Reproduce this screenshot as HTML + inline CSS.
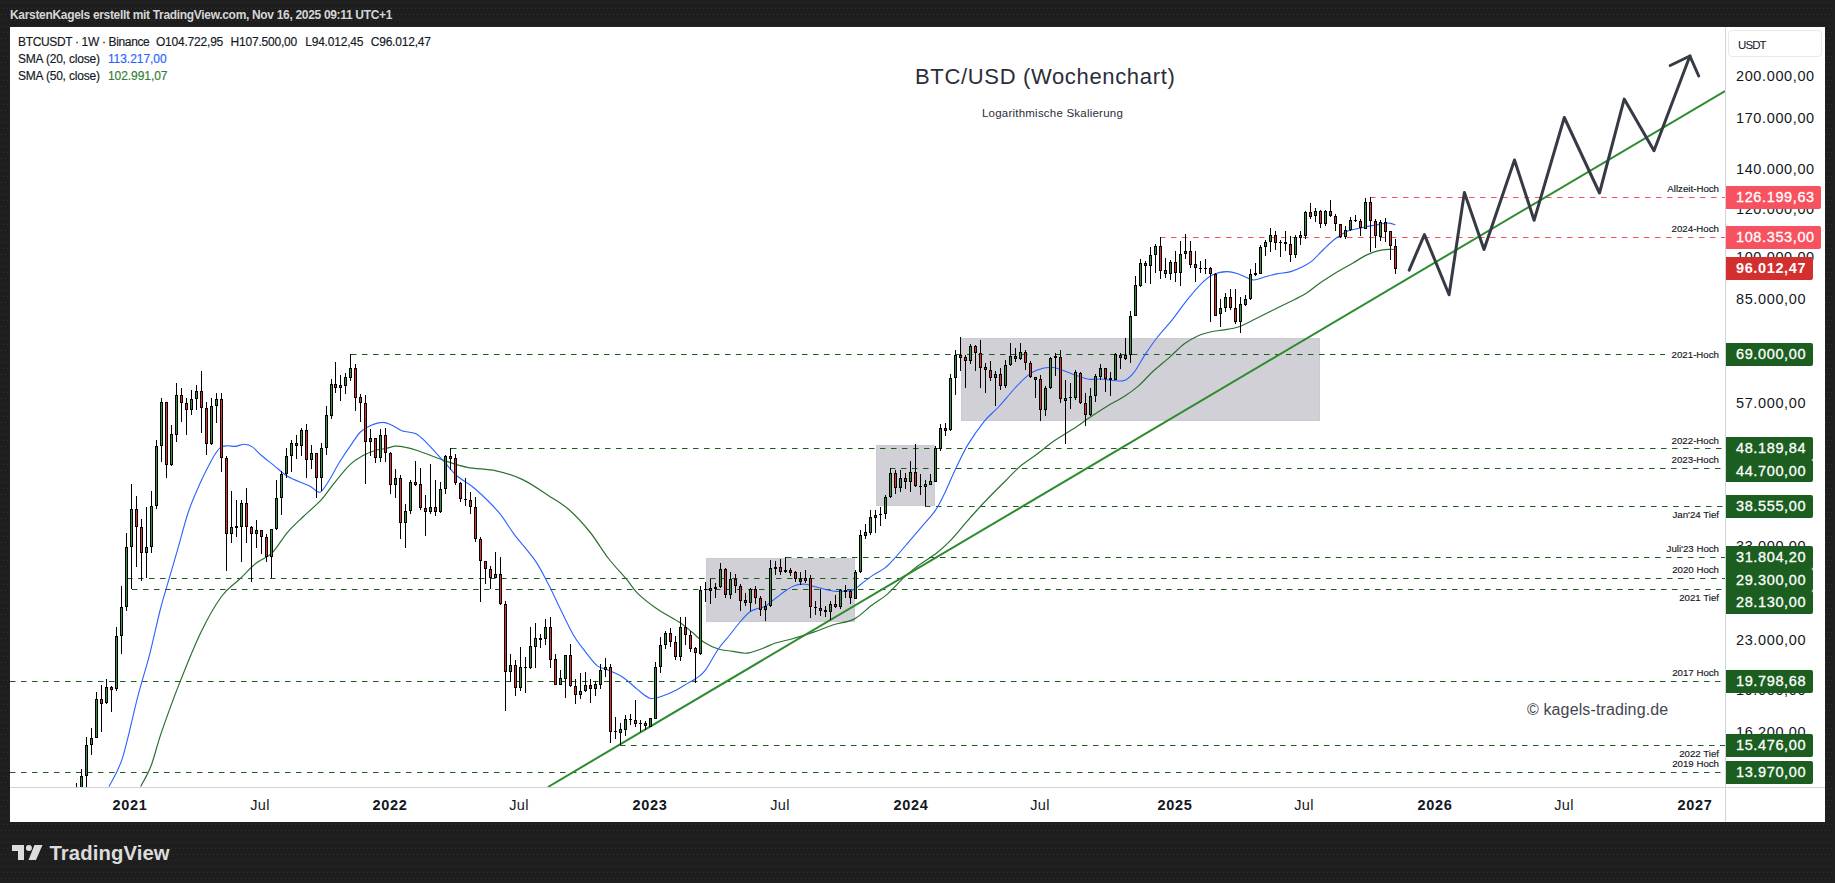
<!DOCTYPE html>
<html><head><meta charset="utf-8"><title>BTC/USD</title>
<style>
html,body{margin:0;padding:0;}
body{width:1835px;height:883px;overflow:hidden;background:#1e1e1e;font-family:"Liberation Sans", sans-serif;position:relative;
}
.abs{position:absolute;white-space:nowrap;}
#hdr{left:10px;top:8px;font-size:12px;line-height:14px;color:#d6d6d6;font-weight:bold;letter-spacing:-0.32px;}
#chart{left:10px;top:27px;width:1815px;height:795px;background:#fff;overflow:hidden;}
#vax{left:1725px;top:27px;width:1px;height:795px;background:#d1d4dc;}
#hax{left:10px;top:787px;width:1815px;height:1px;background:#d1d4dc;}
.pl{left:1736px;font-size:14.5px;line-height:16px;color:#131722;letter-spacing:0.62px;}
.tag{left:1726px;height:22.5px;line-height:22.5px;font-size:14.5px;color:#fff;letter-spacing:0.62px;border-radius:0 2px 2px 0;padding-left:10px;box-sizing:border-box;-webkit-text-stroke:0.3px #fff;}
.tl{font-size:14.5px;line-height:16px;color:#131722;top:797px;transform:translateX(-50%);letter-spacing:0.4px;}
.tl.b{font-weight:bold;letter-spacing:0.7px;}
.ann{-webkit-text-stroke:0.15px #131722;font-size:9.7px;line-height:11px;color:#131722;text-align:right;right:116px;}
.lg{-webkit-text-stroke:0.15px #131722;left:18px;font-size:12px;line-height:14px;color:#131722;letter-spacing:-0.2px;}
</style></head><body>
<svg class="abs" style="left:0;top:0" width="1835" height="883"><defs><pattern id="dots" width="4" height="12" patternUnits="userSpaceOnUse"><rect x="1" y="2" width="1" height="1" fill="#303030"/><rect x="3" y="8" width="1" height="1" fill="#303030"/></pattern></defs><rect width="1835" height="883" fill="url(#dots)"/></svg>
<div class="abs" id="hdr">KarstenKagels erstellt mit TradingView.com, Nov 16, 2025 09:11 UTC+1</div>
<div class="abs" id="chart"></div>
<svg class="abs" style="left:0;top:0" width="1835" height="883" viewBox="0 0 1835 883">
<defs><clipPath id="cp"><rect x="10" y="27" width="1715" height="760"/></clipPath></defs>
<g clip-path="url(#cp)" shape-rendering="auto">
<rect x="706.5" y="558.5" width="148" height="63" fill="#d1d0d6" stroke="#cbcad1" stroke-width="1"/>
<rect x="876.5" y="445.5" width="58" height="60" fill="#d1d0d6" stroke="#cbcad1" stroke-width="1"/>
<rect x="961.5" y="338.5" width="358" height="82" fill="#d1d0d6" stroke="#cbcad1" stroke-width="1"/>
<line x1="1370" y1="197.5" x2="1725" y2="197.5" stroke="#f7525f" stroke-width="1" stroke-dasharray="5.5 5.5"/>
<line x1="1160" y1="237.5" x2="1725" y2="237.5" stroke="#f7525f" stroke-width="1" stroke-dasharray="5.5 5.5"/>
<line x1="351" y1="354.5" x2="1665" y2="354.5" stroke="#1b5e20" stroke-width="1.1" stroke-dasharray="5.5 5.5"/>
<line x1="451" y1="448.5" x2="1725" y2="448.5" stroke="#1b5e20" stroke-width="1.1" stroke-dasharray="5.5 5.5"/>
<line x1="890" y1="468.5" x2="1725" y2="468.5" stroke="#1b5e20" stroke-width="1.1" stroke-dasharray="5.5 5.5"/>
<line x1="925" y1="506.5" x2="1725" y2="506.5" stroke="#1b5e20" stroke-width="1.1" stroke-dasharray="5.5 5.5"/>
<line x1="786" y1="557.5" x2="1725" y2="557.5" stroke="#1b5e20" stroke-width="1.1" stroke-dasharray="5.5 5.5"/>
<line x1="127" y1="578.5" x2="1725" y2="578.5" stroke="#1b5e20" stroke-width="1.1" stroke-dasharray="5.5 5.5"/>
<line x1="132" y1="589.5" x2="1725" y2="589.5" stroke="#1b5e20" stroke-width="1.1" stroke-dasharray="5.5 5.5"/>
<line x1="10" y1="681.5" x2="1725" y2="681.5" stroke="#1b5e20" stroke-width="1.1" stroke-dasharray="5.5 5.5"/>
<line x1="620" y1="745.5" x2="1725" y2="745.5" stroke="#1b5e20" stroke-width="1.1" stroke-dasharray="5.5 5.5"/>
<line x1="10" y1="772.5" x2="1725" y2="772.5" stroke="#1b5e20" stroke-width="1.1" stroke-dasharray="5.5 5.5"/>
<path d="M140.7,786.6C142.4,783.1 147.6,774.8 151.1,765.7C154.6,756.6 156.8,745.8 161.6,731.9C166.4,718.0 173.3,698.9 179.8,682.4C186.3,665.9 193.7,647.2 200.6,632.9C207.5,618.6 215.0,605.4 221.5,596.5C228.0,587.6 233.7,584.9 239.5,579.3C245.3,573.7 250.9,567.4 256.3,563.0C261.7,558.6 266.7,558.2 271.9,553.1C277.1,548.0 282.3,538.4 287.5,532.3C292.7,526.2 297.5,522.1 303.1,516.7C308.8,511.3 316.2,505.4 321.4,499.7C326.6,494.0 329.6,488.6 334.4,482.8C339.2,477.0 345.2,469.2 350.0,464.6C354.8,460.1 358.7,457.9 363.0,455.5C367.3,453.1 372.1,451.5 376.0,450.3C379.9,449.1 383.2,449.1 386.5,448.4C389.8,447.7 392.6,446.4 395.6,446.2C398.6,446.0 401.0,446.4 404.7,447.2C408.4,447.9 411.4,448.5 418.0,450.7C424.6,452.9 435.9,457.6 444.1,460.4C452.4,463.2 458.8,465.7 467.5,467.4C476.2,469.1 487.1,468.8 496.2,470.8C505.3,472.8 513.5,475.3 522.2,479.4C530.9,483.5 540.5,490.4 548.3,495.5C556.1,500.6 562.2,503.7 569.1,509.8C576.0,515.9 583.4,524.0 589.9,532.0C596.4,540.0 602.0,550.1 608.1,558.0C614.2,565.9 621.6,573.4 626.5,579.2C631.4,585.1 632.4,588.2 637.4,593.1C642.4,598.0 649.4,603.5 656.5,608.5C663.6,613.5 674.3,618.8 680.2,622.8C686.1,626.8 688.1,629.0 692.1,632.3C696.1,635.5 699.6,639.5 704.0,642.3C708.4,645.1 713.5,647.5 718.3,649.0C723.1,650.5 727.9,650.6 732.6,651.3C737.4,652.0 742.0,653.6 746.8,653.2C751.5,652.8 756.3,650.7 761.1,649.0C765.9,647.3 770.6,644.6 775.4,643.0C780.2,641.4 783.4,641.3 789.8,639.5C796.2,637.7 806.6,634.5 813.7,632.1C820.9,629.7 826.0,627.2 832.7,625.0C839.4,622.8 847.8,622.3 854.1,619.1C860.4,615.9 865.2,610.2 870.7,606.0C876.2,601.8 881.9,598.9 887.4,594.1C892.9,589.3 898.9,582.1 904.0,577.4C909.1,572.6 912.8,569.8 918.3,565.6C923.8,561.5 931.8,556.9 937.3,552.5C942.8,548.1 946.8,544.4 951.6,539.4C956.4,534.4 961.6,527.6 965.9,522.7C970.1,517.8 972.9,514.6 977.1,510.0C981.3,505.4 986.5,499.9 991.3,495.0C996.0,490.1 1000.8,485.4 1005.6,480.7C1010.4,475.9 1014.8,470.9 1019.9,466.5C1025.0,462.1 1031.0,458.8 1036.5,454.6C1042.0,450.4 1047.2,445.7 1053.2,441.5C1059.2,437.3 1065.9,433.8 1072.2,429.6C1078.5,425.4 1085.2,420.5 1091.2,416.5C1097.2,412.5 1102.4,409.2 1107.9,405.8C1113.5,402.4 1119.3,399.7 1124.5,396.3C1129.7,392.9 1134.0,389.8 1138.8,385.6C1143.6,381.4 1147.9,376.1 1153.1,371.3C1158.2,366.6 1164.5,361.7 1169.7,357.1C1174.9,352.6 1179.2,347.6 1184.0,344.0C1188.8,340.4 1193.5,337.8 1198.2,335.7C1203.0,333.6 1208.2,332.5 1212.5,331.5C1216.8,330.5 1219.9,330.6 1224.2,329.8C1228.5,329.1 1233.7,328.6 1238.4,327.0C1243.2,325.4 1247.2,323.0 1252.7,320.3C1258.2,317.6 1265.8,313.8 1271.7,310.8C1277.7,307.8 1282.9,305.3 1288.4,302.5C1294.0,299.7 1299.8,297.3 1305.0,294.1C1310.2,290.9 1314.1,287.0 1319.3,283.4C1324.5,279.8 1330.4,276.1 1335.9,272.7C1341.5,269.3 1347.4,266.2 1352.6,263.2C1357.8,260.2 1362.4,257.0 1366.8,254.9C1371.2,252.8 1374.9,251.5 1378.7,250.6C1382.5,249.7 1386.8,249.5 1389.5,249.3C1392.2,249.1 1394.1,249.6 1395.0,249.6" fill="none" stroke="#2c7031" stroke-width="1.2"/>
<path d="M109.0,786.6C111.2,781.8 117.7,773.1 122.5,757.9C127.3,742.7 133.5,712.8 138.1,695.4C142.7,678.0 146.1,668.1 149.8,653.8C153.5,639.5 157.1,621.9 160.3,609.5C163.5,597.1 166.0,589.5 169.0,579.2C172.0,568.9 174.8,559.2 178.1,547.9C181.3,536.6 184.8,522.4 188.5,511.5C192.2,500.6 196.4,491.5 200.3,482.8C204.2,474.1 208.7,465.2 212.0,459.4C215.3,453.5 217.7,450.0 220.3,447.7C222.9,445.4 225.1,446.0 227.6,445.8C230.1,445.6 232.6,446.6 235.4,446.4C238.2,446.1 241.7,444.2 244.5,444.3C247.3,444.4 249.5,445.0 252.3,446.9C255.1,448.8 257.8,452.3 261.5,455.5C265.2,458.7 270.2,462.4 274.5,465.9C278.8,469.4 282.7,473.4 287.5,476.3C292.3,479.2 299.2,481.6 303.1,483.3C307.0,485.0 308.6,485.4 310.9,486.7C313.2,488.0 314.9,490.6 316.7,491.4C318.4,492.2 319.3,493.3 321.4,491.4C323.5,489.5 326.2,485.1 329.2,480.2C332.2,475.3 336.1,467.6 339.6,462.0C343.1,456.4 346.5,451.4 350.0,446.4C353.5,441.4 356.9,435.5 360.4,432.0C363.9,428.5 367.1,427.1 370.8,425.5C374.5,423.9 379.1,422.4 382.6,422.4C386.1,422.3 388.7,423.8 392.0,425.2C395.3,426.6 398.5,429.5 402.4,430.9C406.3,432.3 411.5,431.6 415.4,433.5C419.3,435.4 421.1,437.4 425.9,442.1C430.7,446.8 438.9,456.1 444.1,461.7C449.3,467.3 451.9,471.4 457.1,476.0C462.3,480.6 468.4,482.9 475.3,489.0C482.2,495.1 492.3,504.8 498.8,512.4C505.3,520.0 508.3,526.6 514.4,534.6C520.5,542.6 529.6,552.4 535.2,560.6C540.9,568.9 544.3,576.5 548.3,584.1C552.3,591.7 554.9,597.8 559.0,606.2C563.1,614.6 568.9,627.2 573.2,634.7C577.6,642.2 581.1,646.1 585.1,651.3C589.1,656.4 593.0,662.4 597.0,665.6C601.0,668.8 604.5,668.4 608.9,670.4C613.3,672.4 618.5,674.3 623.2,677.5C628.0,680.7 633.0,685.9 637.4,689.4C641.8,692.9 645.8,697.0 649.8,698.2C653.8,699.4 656.9,697.8 661.2,696.5C665.5,695.2 671.1,692.8 675.5,690.6C679.9,688.4 684.0,685.4 687.4,683.4C690.8,681.4 692.7,680.9 695.7,678.7C698.7,676.5 701.4,675.4 705.2,670.4C709.0,665.4 714.2,654.9 718.3,649.0C722.4,643.1 726.1,639.5 729.7,635.0C733.3,630.5 736.6,625.9 740.0,622.0C743.4,618.1 747.0,614.0 750.0,611.8C753.0,609.5 755.5,609.4 758.0,608.5C760.5,607.6 762.2,608.0 765.3,606.2C768.4,604.4 773.0,600.1 776.5,597.5C780.0,594.9 782.9,592.5 786.0,590.5C789.1,588.5 791.7,586.5 794.9,585.5C798.1,584.5 801.4,583.9 805.1,584.2C808.8,584.5 812.2,586.1 817.3,587.3C822.4,588.5 829.8,591.0 835.7,591.4C841.7,591.8 848.8,591.1 853.0,589.9C857.2,588.7 857.9,586.5 861.2,584.0C864.6,581.5 869.1,577.8 873.1,575.1C877.1,572.4 881.4,570.7 885.0,567.9C888.6,565.1 890.5,562.8 894.5,558.4C898.5,554.0 904.0,547.3 908.8,541.8C913.6,536.2 918.7,530.2 923.1,525.1C927.5,520.0 931.5,515.9 935.0,510.9C938.5,505.9 940.3,502.0 943.8,495.0C947.2,488.0 951.7,477.1 955.7,468.8C959.7,460.5 962.9,453.0 967.6,445.1C972.4,437.2 979.1,427.7 984.2,421.3C989.4,414.9 993.4,412.6 998.5,407.0C1003.6,401.4 1010.4,393.1 1015.1,388.0C1019.9,382.9 1023.4,379.1 1027.0,376.1C1030.6,373.1 1032.5,371.7 1036.5,370.2C1040.5,368.7 1046.4,367.3 1050.8,367.3C1055.2,367.3 1058.7,368.9 1062.7,370.2C1066.7,371.5 1070.2,373.4 1074.6,374.9C1078.9,376.4 1084.4,378.5 1088.8,379.2C1093.2,379.9 1096.7,378.8 1100.7,379.0C1104.7,379.2 1108.7,380.1 1112.6,380.4C1116.5,380.6 1120.8,381.8 1124.3,380.5C1127.8,379.2 1130.2,377.1 1133.8,372.6C1137.4,368.1 1141.7,359.5 1145.7,353.6C1149.7,347.7 1153.2,342.6 1157.6,337.0C1161.9,331.4 1167.0,326.2 1171.8,320.3C1176.5,314.4 1181.3,307.2 1186.1,301.3C1190.9,295.4 1196.0,289.0 1200.4,284.6C1204.8,280.2 1208.0,277.3 1212.3,275.1C1216.6,272.9 1222.2,271.8 1226.5,271.6C1230.8,271.4 1234.0,272.5 1238.4,273.9C1242.8,275.3 1248.3,279.4 1252.7,279.9C1257.1,280.4 1260.6,278.0 1264.6,277.0C1268.6,276.0 1272.2,274.8 1276.5,273.9C1280.8,273.0 1286.4,272.8 1290.7,271.6C1295.0,270.4 1299.0,268.6 1302.6,266.8C1306.2,265.0 1308.5,263.9 1312.1,260.9C1315.7,257.9 1320.0,252.8 1324.0,249.0C1328.0,245.2 1331.9,241.3 1335.9,238.3C1339.9,235.3 1343.8,232.8 1347.8,231.1C1351.8,229.4 1356.0,229.2 1359.7,228.3C1363.4,227.4 1366.8,226.6 1370.2,225.9C1373.7,225.2 1377.2,224.6 1380.4,224.1C1383.6,223.6 1387.0,222.9 1389.5,223.1C1392.0,223.2 1394.4,224.7 1395.4,225.0" fill="none" stroke="#2962ff" stroke-width="1.1"/>
<line x1="548" y1="787" x2="1725" y2="91" stroke="#2e8b2e" stroke-width="2"/>
<rect x="76" y="783" width="1" height="17" fill="#000"/>
<rect x="75" y="790" width="3" height="10" fill="#000"/>
<rect x="76" y="791" width="1" height="8" fill="#2f9237"/>
<rect x="81" y="769" width="1" height="26" fill="#000"/>
<rect x="80" y="776" width="3" height="19" fill="#000"/>
<rect x="81" y="777" width="1" height="17" fill="#2f9237"/>
<rect x="86" y="737" width="1" height="53" fill="#000"/>
<rect x="85" y="745" width="3" height="31" fill="#000"/>
<rect x="86" y="746" width="1" height="29" fill="#2f9237"/>
<rect x="91" y="728" width="1" height="27" fill="#000"/>
<rect x="90" y="738" width="3" height="7" fill="#000"/>
<rect x="91" y="739" width="1" height="5" fill="#2f9237"/>
<rect x="96" y="692" width="1" height="46" fill="#000"/>
<rect x="95" y="699" width="3" height="39" fill="#000"/>
<rect x="96" y="700" width="1" height="37" fill="#2f9237"/>
<rect x="101" y="685" width="1" height="47" fill="#000"/>
<rect x="100" y="699" width="3" height="5" fill="#000"/>
<rect x="101" y="700" width="1" height="3" fill="#e02d2d"/>
<rect x="106" y="679" width="1" height="25" fill="#000"/>
<rect x="105" y="687" width="3" height="16" fill="#000"/>
<rect x="106" y="688" width="1" height="14" fill="#2f9237"/>
<rect x="111" y="686" width="1" height="26" fill="#000"/>
<rect x="110" y="687" width="3" height="3" fill="#000"/>
<rect x="111" y="688" width="1" height="1" fill="#e02d2d"/>
<rect x="116" y="627" width="1" height="64" fill="#000"/>
<rect x="115" y="636" width="3" height="53" fill="#000"/>
<rect x="116" y="637" width="1" height="51" fill="#2f9237"/>
<rect x="121" y="586" width="1" height="68" fill="#000"/>
<rect x="120" y="607" width="3" height="29" fill="#000"/>
<rect x="121" y="608" width="1" height="27" fill="#2f9237"/>
<rect x="126" y="533" width="1" height="78" fill="#000"/>
<rect x="125" y="547" width="3" height="60" fill="#000"/>
<rect x="126" y="548" width="1" height="58" fill="#2f9237"/>
<rect x="131" y="484" width="1" height="105" fill="#000"/>
<rect x="130" y="509" width="3" height="38" fill="#000"/>
<rect x="131" y="510" width="1" height="36" fill="#2f9237"/>
<rect x="136" y="496" width="1" height="71" fill="#000"/>
<rect x="135" y="509" width="3" height="18" fill="#000"/>
<rect x="136" y="510" width="1" height="16" fill="#e02d2d"/>
<rect x="141" y="519" width="1" height="62" fill="#000"/>
<rect x="140" y="527" width="3" height="26" fill="#000"/>
<rect x="141" y="528" width="1" height="24" fill="#e02d2d"/>
<rect x="146" y="507" width="1" height="71" fill="#000"/>
<rect x="145" y="547" width="3" height="6" fill="#000"/>
<rect x="146" y="548" width="1" height="4" fill="#2f9237"/>
<rect x="151" y="491" width="1" height="62" fill="#000"/>
<rect x="150" y="506" width="3" height="41" fill="#000"/>
<rect x="151" y="507" width="1" height="39" fill="#2f9237"/>
<rect x="156" y="440" width="1" height="69" fill="#000"/>
<rect x="155" y="446" width="3" height="60" fill="#000"/>
<rect x="156" y="447" width="1" height="58" fill="#2f9237"/>
<rect x="161" y="398" width="1" height="64" fill="#000"/>
<rect x="160" y="402" width="3" height="44" fill="#000"/>
<rect x="161" y="403" width="1" height="42" fill="#2f9237"/>
<rect x="166" y="402" width="1" height="76" fill="#000"/>
<rect x="165" y="402" width="3" height="63" fill="#000"/>
<rect x="166" y="403" width="1" height="61" fill="#e02d2d"/>
<rect x="171" y="425" width="1" height="41" fill="#000"/>
<rect x="170" y="434" width="3" height="31" fill="#000"/>
<rect x="171" y="435" width="1" height="29" fill="#2f9237"/>
<rect x="176" y="383" width="1" height="59" fill="#000"/>
<rect x="175" y="395" width="3" height="40" fill="#000"/>
<rect x="176" y="396" width="1" height="38" fill="#2f9237"/>
<rect x="181" y="388" width="1" height="34" fill="#000"/>
<rect x="180" y="395" width="3" height="8" fill="#000"/>
<rect x="181" y="396" width="1" height="6" fill="#e02d2d"/>
<rect x="186" y="398" width="1" height="37" fill="#000"/>
<rect x="185" y="403" width="3" height="7" fill="#000"/>
<rect x="186" y="404" width="1" height="5" fill="#e02d2d"/>
<rect x="191" y="390" width="1" height="25" fill="#000"/>
<rect x="190" y="399" width="3" height="11" fill="#000"/>
<rect x="191" y="400" width="1" height="9" fill="#2f9237"/>
<rect x="196" y="385" width="1" height="25" fill="#000"/>
<rect x="195" y="391" width="3" height="8" fill="#000"/>
<rect x="196" y="392" width="1" height="6" fill="#2f9237"/>
<rect x="201" y="371" width="1" height="62" fill="#000"/>
<rect x="200" y="391" width="3" height="17" fill="#000"/>
<rect x="201" y="392" width="1" height="15" fill="#e02d2d"/>
<rect x="206" y="402" width="1" height="53" fill="#000"/>
<rect x="205" y="408" width="3" height="36" fill="#000"/>
<rect x="206" y="409" width="1" height="34" fill="#e02d2d"/>
<rect x="211" y="398" width="1" height="47" fill="#000"/>
<rect x="210" y="406" width="3" height="38" fill="#000"/>
<rect x="211" y="407" width="1" height="36" fill="#2f9237"/>
<rect x="216" y="393" width="1" height="30" fill="#000"/>
<rect x="215" y="399" width="3" height="7" fill="#000"/>
<rect x="216" y="400" width="1" height="5" fill="#2f9237"/>
<rect x="221" y="393" width="1" height="79" fill="#000"/>
<rect x="220" y="399" width="3" height="59" fill="#000"/>
<rect x="221" y="400" width="1" height="57" fill="#e02d2d"/>
<rect x="226" y="456" width="1" height="115" fill="#000"/>
<rect x="225" y="458" width="3" height="76" fill="#000"/>
<rect x="226" y="459" width="1" height="74" fill="#e02d2d"/>
<rect x="231" y="491" width="1" height="52" fill="#000"/>
<rect x="230" y="527" width="3" height="7" fill="#000"/>
<rect x="231" y="528" width="1" height="5" fill="#2f9237"/>
<rect x="236" y="500" width="1" height="37" fill="#000"/>
<rect x="235" y="526" width="3" height="2" fill="#000"/>
<rect x="241" y="500" width="1" height="62" fill="#000"/>
<rect x="240" y="503" width="3" height="24" fill="#000"/>
<rect x="241" y="504" width="1" height="22" fill="#2f9237"/>
<rect x="246" y="488" width="1" height="55" fill="#000"/>
<rect x="245" y="503" width="3" height="24" fill="#000"/>
<rect x="246" y="504" width="1" height="22" fill="#e02d2d"/>
<rect x="251" y="526" width="1" height="56" fill="#000"/>
<rect x="250" y="527" width="3" height="7" fill="#000"/>
<rect x="251" y="528" width="1" height="5" fill="#e02d2d"/>
<rect x="256" y="520" width="1" height="28" fill="#000"/>
<rect x="255" y="530" width="3" height="4" fill="#000"/>
<rect x="256" y="531" width="1" height="2" fill="#2f9237"/>
<rect x="261" y="530" width="1" height="24" fill="#000"/>
<rect x="260" y="530" width="3" height="7" fill="#000"/>
<rect x="261" y="531" width="1" height="5" fill="#e02d2d"/>
<rect x="266" y="534" width="1" height="28" fill="#000"/>
<rect x="265" y="537" width="3" height="20" fill="#000"/>
<rect x="266" y="538" width="1" height="18" fill="#e02d2d"/>
<rect x="271" y="529" width="1" height="49" fill="#000"/>
<rect x="270" y="529" width="3" height="28" fill="#000"/>
<rect x="271" y="530" width="1" height="26" fill="#2f9237"/>
<rect x="276" y="480" width="1" height="50" fill="#000"/>
<rect x="275" y="498" width="3" height="31" fill="#000"/>
<rect x="276" y="499" width="1" height="29" fill="#2f9237"/>
<rect x="281" y="471" width="1" height="44" fill="#000"/>
<rect x="280" y="474" width="3" height="24" fill="#000"/>
<rect x="281" y="475" width="1" height="22" fill="#2f9237"/>
<rect x="286" y="448" width="1" height="30" fill="#000"/>
<rect x="285" y="456" width="3" height="18" fill="#000"/>
<rect x="286" y="457" width="1" height="16" fill="#2f9237"/>
<rect x="291" y="440" width="1" height="32" fill="#000"/>
<rect x="290" y="443" width="3" height="13" fill="#000"/>
<rect x="291" y="444" width="1" height="11" fill="#2f9237"/>
<rect x="296" y="435" width="1" height="24" fill="#000"/>
<rect x="295" y="443" width="3" height="3" fill="#000"/>
<rect x="296" y="444" width="1" height="1" fill="#e02d2d"/>
<rect x="301" y="428" width="1" height="28" fill="#000"/>
<rect x="300" y="430" width="3" height="16" fill="#000"/>
<rect x="301" y="431" width="1" height="14" fill="#2f9237"/>
<rect x="306" y="424" width="1" height="54" fill="#000"/>
<rect x="305" y="430" width="3" height="30" fill="#000"/>
<rect x="306" y="431" width="1" height="28" fill="#e02d2d"/>
<rect x="311" y="445" width="1" height="24" fill="#000"/>
<rect x="310" y="453" width="3" height="7" fill="#000"/>
<rect x="311" y="454" width="1" height="5" fill="#2f9237"/>
<rect x="316" y="453" width="1" height="45" fill="#000"/>
<rect x="315" y="453" width="3" height="25" fill="#000"/>
<rect x="316" y="454" width="1" height="23" fill="#e02d2d"/>
<rect x="321" y="443" width="1" height="48" fill="#000"/>
<rect x="320" y="448" width="3" height="30" fill="#000"/>
<rect x="321" y="449" width="1" height="28" fill="#2f9237"/>
<rect x="326" y="406" width="1" height="49" fill="#000"/>
<rect x="325" y="415" width="3" height="33" fill="#000"/>
<rect x="326" y="416" width="1" height="31" fill="#2f9237"/>
<rect x="331" y="379" width="1" height="40" fill="#000"/>
<rect x="330" y="384" width="3" height="32" fill="#000"/>
<rect x="331" y="385" width="1" height="30" fill="#2f9237"/>
<rect x="335" y="362" width="1" height="31" fill="#000"/>
<rect x="334" y="384" width="3" height="4" fill="#000"/>
<rect x="335" y="385" width="1" height="2" fill="#e02d2d"/>
<rect x="340" y="375" width="1" height="26" fill="#000"/>
<rect x="339" y="385" width="3" height="3" fill="#000"/>
<rect x="340" y="386" width="1" height="1" fill="#2f9237"/>
<rect x="345" y="373" width="1" height="21" fill="#000"/>
<rect x="344" y="377" width="3" height="9" fill="#000"/>
<rect x="345" y="378" width="1" height="7" fill="#2f9237"/>
<rect x="350" y="354" width="1" height="27" fill="#000"/>
<rect x="349" y="368" width="3" height="10" fill="#000"/>
<rect x="350" y="369" width="1" height="8" fill="#2f9237"/>
<rect x="355" y="364" width="1" height="47" fill="#000"/>
<rect x="354" y="368" width="3" height="30" fill="#000"/>
<rect x="355" y="369" width="1" height="28" fill="#e02d2d"/>
<rect x="360" y="394" width="1" height="28" fill="#000"/>
<rect x="359" y="397" width="3" height="6" fill="#000"/>
<rect x="360" y="398" width="1" height="4" fill="#e02d2d"/>
<rect x="365" y="395" width="1" height="89" fill="#000"/>
<rect x="364" y="403" width="3" height="39" fill="#000"/>
<rect x="365" y="404" width="1" height="37" fill="#e02d2d"/>
<rect x="370" y="429" width="1" height="27" fill="#000"/>
<rect x="369" y="438" width="3" height="4" fill="#000"/>
<rect x="370" y="439" width="1" height="2" fill="#2f9237"/>
<rect x="375" y="438" width="1" height="25" fill="#000"/>
<rect x="374" y="438" width="3" height="20" fill="#000"/>
<rect x="375" y="439" width="1" height="18" fill="#e02d2d"/>
<rect x="380" y="429" width="1" height="33" fill="#000"/>
<rect x="379" y="435" width="3" height="23" fill="#000"/>
<rect x="380" y="436" width="1" height="21" fill="#2f9237"/>
<rect x="385" y="428" width="1" height="34" fill="#000"/>
<rect x="384" y="435" width="3" height="18" fill="#000"/>
<rect x="385" y="436" width="1" height="16" fill="#e02d2d"/>
<rect x="390" y="452" width="1" height="42" fill="#000"/>
<rect x="389" y="453" width="3" height="32" fill="#000"/>
<rect x="390" y="454" width="1" height="30" fill="#e02d2d"/>
<rect x="395" y="469" width="1" height="29" fill="#000"/>
<rect x="394" y="478" width="3" height="7" fill="#000"/>
<rect x="395" y="479" width="1" height="5" fill="#2f9237"/>
<rect x="400" y="475" width="1" height="64" fill="#000"/>
<rect x="399" y="478" width="3" height="45" fill="#000"/>
<rect x="400" y="479" width="1" height="43" fill="#e02d2d"/>
<rect x="405" y="504" width="1" height="44" fill="#000"/>
<rect x="404" y="511" width="3" height="12" fill="#000"/>
<rect x="405" y="512" width="1" height="10" fill="#2f9237"/>
<rect x="410" y="480" width="1" height="34" fill="#000"/>
<rect x="409" y="482" width="3" height="29" fill="#000"/>
<rect x="410" y="483" width="1" height="27" fill="#2f9237"/>
<rect x="415" y="461" width="1" height="25" fill="#000"/>
<rect x="414" y="482" width="3" height="3" fill="#000"/>
<rect x="415" y="483" width="1" height="1" fill="#e02d2d"/>
<rect x="420" y="468" width="1" height="42" fill="#000"/>
<rect x="419" y="484" width="3" height="24" fill="#000"/>
<rect x="420" y="485" width="1" height="22" fill="#e02d2d"/>
<rect x="425" y="495" width="1" height="41" fill="#000"/>
<rect x="424" y="508" width="3" height="4" fill="#000"/>
<rect x="425" y="509" width="1" height="2" fill="#e02d2d"/>
<rect x="430" y="464" width="1" height="50" fill="#000"/>
<rect x="429" y="507" width="3" height="5" fill="#000"/>
<rect x="430" y="508" width="1" height="3" fill="#2f9237"/>
<rect x="435" y="480" width="1" height="36" fill="#000"/>
<rect x="434" y="507" width="3" height="5" fill="#000"/>
<rect x="435" y="508" width="1" height="3" fill="#e02d2d"/>
<rect x="440" y="482" width="1" height="31" fill="#000"/>
<rect x="439" y="489" width="3" height="23" fill="#000"/>
<rect x="440" y="490" width="1" height="21" fill="#2f9237"/>
<rect x="445" y="455" width="1" height="39" fill="#000"/>
<rect x="444" y="456" width="3" height="33" fill="#000"/>
<rect x="445" y="457" width="1" height="31" fill="#2f9237"/>
<rect x="450" y="448" width="1" height="22" fill="#000"/>
<rect x="449" y="456" width="3" height="3" fill="#000"/>
<rect x="450" y="457" width="1" height="1" fill="#e02d2d"/>
<rect x="455" y="454" width="1" height="31" fill="#000"/>
<rect x="454" y="458" width="3" height="25" fill="#000"/>
<rect x="455" y="459" width="1" height="23" fill="#e02d2d"/>
<rect x="460" y="482" width="1" height="20" fill="#000"/>
<rect x="459" y="483" width="3" height="16" fill="#000"/>
<rect x="460" y="484" width="1" height="14" fill="#e02d2d"/>
<rect x="465" y="478" width="1" height="28" fill="#000"/>
<rect x="464" y="499" width="3" height="1" fill="#000"/>
<rect x="470" y="492" width="1" height="22" fill="#000"/>
<rect x="469" y="500" width="3" height="7" fill="#000"/>
<rect x="470" y="501" width="1" height="5" fill="#e02d2d"/>
<rect x="475" y="497" width="1" height="45" fill="#000"/>
<rect x="474" y="507" width="3" height="32" fill="#000"/>
<rect x="475" y="508" width="1" height="30" fill="#e02d2d"/>
<rect x="480" y="537" width="1" height="65" fill="#000"/>
<rect x="479" y="539" width="3" height="22" fill="#000"/>
<rect x="480" y="540" width="1" height="20" fill="#e02d2d"/>
<rect x="485" y="561" width="1" height="23" fill="#000"/>
<rect x="484" y="561" width="3" height="8" fill="#000"/>
<rect x="485" y="562" width="1" height="6" fill="#e02d2d"/>
<rect x="490" y="566" width="1" height="23" fill="#000"/>
<rect x="489" y="569" width="3" height="9" fill="#000"/>
<rect x="490" y="570" width="1" height="7" fill="#e02d2d"/>
<rect x="495" y="552" width="1" height="26" fill="#000"/>
<rect x="494" y="574" width="3" height="4" fill="#000"/>
<rect x="495" y="575" width="1" height="2" fill="#2f9237"/>
<rect x="500" y="557" width="1" height="48" fill="#000"/>
<rect x="499" y="574" width="3" height="30" fill="#000"/>
<rect x="500" y="575" width="1" height="28" fill="#e02d2d"/>
<rect x="505" y="601" width="1" height="110" fill="#000"/>
<rect x="504" y="604" width="3" height="68" fill="#000"/>
<rect x="505" y="605" width="1" height="66" fill="#e02d2d"/>
<rect x="510" y="654" width="1" height="28" fill="#000"/>
<rect x="509" y="665" width="3" height="7" fill="#000"/>
<rect x="510" y="666" width="1" height="5" fill="#2f9237"/>
<rect x="515" y="660" width="1" height="36" fill="#000"/>
<rect x="514" y="665" width="3" height="23" fill="#000"/>
<rect x="515" y="666" width="1" height="21" fill="#e02d2d"/>
<rect x="520" y="647" width="1" height="44" fill="#000"/>
<rect x="519" y="667" width="3" height="21" fill="#000"/>
<rect x="520" y="668" width="1" height="19" fill="#2f9237"/>
<rect x="525" y="657" width="1" height="36" fill="#000"/>
<rect x="524" y="667" width="3" height="1" fill="#000"/>
<rect x="530" y="627" width="1" height="42" fill="#000"/>
<rect x="529" y="646" width="3" height="22" fill="#000"/>
<rect x="530" y="647" width="1" height="20" fill="#2f9237"/>
<rect x="535" y="623" width="1" height="45" fill="#000"/>
<rect x="534" y="638" width="3" height="9" fill="#000"/>
<rect x="535" y="639" width="1" height="7" fill="#2f9237"/>
<rect x="540" y="634" width="1" height="14" fill="#000"/>
<rect x="539" y="638" width="3" height="2" fill="#000"/>
<rect x="545" y="619" width="1" height="26" fill="#000"/>
<rect x="544" y="627" width="3" height="12" fill="#000"/>
<rect x="545" y="628" width="1" height="10" fill="#2f9237"/>
<rect x="550" y="617" width="1" height="51" fill="#000"/>
<rect x="549" y="627" width="3" height="33" fill="#000"/>
<rect x="550" y="628" width="1" height="31" fill="#e02d2d"/>
<rect x="555" y="654" width="1" height="31" fill="#000"/>
<rect x="554" y="659" width="3" height="26" fill="#000"/>
<rect x="555" y="660" width="1" height="24" fill="#e02d2d"/>
<rect x="560" y="670" width="1" height="15" fill="#000"/>
<rect x="559" y="678" width="3" height="7" fill="#000"/>
<rect x="560" y="679" width="1" height="5" fill="#2f9237"/>
<rect x="565" y="655" width="1" height="43" fill="#000"/>
<rect x="564" y="655" width="3" height="24" fill="#000"/>
<rect x="565" y="656" width="1" height="22" fill="#2f9237"/>
<rect x="570" y="644" width="1" height="43" fill="#000"/>
<rect x="569" y="655" width="3" height="31" fill="#000"/>
<rect x="570" y="656" width="1" height="29" fill="#e02d2d"/>
<rect x="575" y="679" width="1" height="25" fill="#000"/>
<rect x="574" y="686" width="3" height="9" fill="#000"/>
<rect x="575" y="687" width="1" height="7" fill="#e02d2d"/>
<rect x="580" y="673" width="1" height="26" fill="#000"/>
<rect x="579" y="691" width="3" height="4" fill="#000"/>
<rect x="580" y="692" width="1" height="2" fill="#2f9237"/>
<rect x="585" y="672" width="1" height="20" fill="#000"/>
<rect x="584" y="685" width="3" height="6" fill="#000"/>
<rect x="585" y="686" width="1" height="4" fill="#2f9237"/>
<rect x="590" y="679" width="1" height="24" fill="#000"/>
<rect x="589" y="685" width="3" height="4" fill="#000"/>
<rect x="590" y="686" width="1" height="2" fill="#e02d2d"/>
<rect x="595" y="681" width="1" height="15" fill="#000"/>
<rect x="594" y="684" width="3" height="5" fill="#000"/>
<rect x="595" y="685" width="1" height="3" fill="#2f9237"/>
<rect x="600" y="664" width="1" height="25" fill="#000"/>
<rect x="599" y="670" width="3" height="15" fill="#000"/>
<rect x="600" y="671" width="1" height="13" fill="#2f9237"/>
<rect x="605" y="658" width="1" height="19" fill="#000"/>
<rect x="604" y="667" width="3" height="3" fill="#000"/>
<rect x="605" y="668" width="1" height="1" fill="#2f9237"/>
<rect x="610" y="664" width="1" height="79" fill="#000"/>
<rect x="609" y="667" width="3" height="65" fill="#000"/>
<rect x="610" y="668" width="1" height="63" fill="#e02d2d"/>
<rect x="615" y="717" width="1" height="22" fill="#000"/>
<rect x="614" y="731" width="3" height="1" fill="#000"/>
<rect x="620" y="723" width="1" height="22" fill="#000"/>
<rect x="619" y="729" width="3" height="4" fill="#000"/>
<rect x="620" y="730" width="1" height="2" fill="#2f9237"/>
<rect x="625" y="715" width="1" height="21" fill="#000"/>
<rect x="624" y="719" width="3" height="11" fill="#000"/>
<rect x="625" y="720" width="1" height="9" fill="#2f9237"/>
<rect x="630" y="714" width="1" height="11" fill="#000"/>
<rect x="629" y="719" width="3" height="1" fill="#000"/>
<rect x="635" y="700" width="1" height="27" fill="#000"/>
<rect x="634" y="720" width="3" height="4" fill="#000"/>
<rect x="635" y="721" width="1" height="2" fill="#e02d2d"/>
<rect x="640" y="720" width="1" height="12" fill="#000"/>
<rect x="639" y="723" width="3" height="1" fill="#000"/>
<rect x="645" y="721" width="1" height="9" fill="#000"/>
<rect x="644" y="723" width="3" height="3" fill="#000"/>
<rect x="645" y="724" width="1" height="1" fill="#e02d2d"/>
<rect x="650" y="718" width="1" height="9" fill="#000"/>
<rect x="649" y="718" width="3" height="9" fill="#000"/>
<rect x="650" y="719" width="1" height="7" fill="#2f9237"/>
<rect x="655" y="662" width="1" height="57" fill="#000"/>
<rect x="654" y="667" width="3" height="52" fill="#000"/>
<rect x="655" y="668" width="1" height="50" fill="#2f9237"/>
<rect x="660" y="637" width="1" height="36" fill="#000"/>
<rect x="659" y="645" width="3" height="22" fill="#000"/>
<rect x="660" y="646" width="1" height="20" fill="#2f9237"/>
<rect x="665" y="631" width="1" height="18" fill="#000"/>
<rect x="664" y="633" width="3" height="12" fill="#000"/>
<rect x="665" y="634" width="1" height="10" fill="#2f9237"/>
<rect x="670" y="628" width="1" height="19" fill="#000"/>
<rect x="669" y="633" width="3" height="9" fill="#000"/>
<rect x="670" y="634" width="1" height="7" fill="#e02d2d"/>
<rect x="675" y="636" width="1" height="24" fill="#000"/>
<rect x="674" y="642" width="3" height="15" fill="#000"/>
<rect x="675" y="643" width="1" height="13" fill="#e02d2d"/>
<rect x="680" y="617" width="1" height="44" fill="#000"/>
<rect x="679" y="627" width="3" height="30" fill="#000"/>
<rect x="680" y="628" width="1" height="28" fill="#2f9237"/>
<rect x="685" y="617" width="1" height="28" fill="#000"/>
<rect x="684" y="627" width="3" height="8" fill="#000"/>
<rect x="685" y="628" width="1" height="6" fill="#e02d2d"/>
<rect x="690" y="631" width="1" height="21" fill="#000"/>
<rect x="689" y="635" width="3" height="14" fill="#000"/>
<rect x="690" y="636" width="1" height="12" fill="#e02d2d"/>
<rect x="695" y="647" width="1" height="36" fill="#000"/>
<rect x="694" y="648" width="3" height="5" fill="#000"/>
<rect x="695" y="649" width="1" height="3" fill="#e02d2d"/>
<rect x="700" y="586" width="1" height="69" fill="#000"/>
<rect x="699" y="590" width="3" height="64" fill="#000"/>
<rect x="700" y="591" width="1" height="62" fill="#2f9237"/>
<rect x="705" y="582" width="1" height="20" fill="#000"/>
<rect x="704" y="589" width="3" height="1" fill="#000"/>
<rect x="710" y="579" width="1" height="25" fill="#000"/>
<rect x="709" y="588" width="3" height="3" fill="#000"/>
<rect x="710" y="589" width="1" height="1" fill="#2f9237"/>
<rect x="715" y="583" width="1" height="15" fill="#000"/>
<rect x="714" y="587" width="3" height="2" fill="#000"/>
<rect x="720" y="563" width="1" height="25" fill="#000"/>
<rect x="719" y="569" width="3" height="18" fill="#000"/>
<rect x="720" y="570" width="1" height="16" fill="#2f9237"/>
<rect x="725" y="568" width="1" height="30" fill="#000"/>
<rect x="724" y="569" width="3" height="26" fill="#000"/>
<rect x="725" y="570" width="1" height="24" fill="#e02d2d"/>
<rect x="730" y="572" width="1" height="27" fill="#000"/>
<rect x="729" y="579" width="3" height="16" fill="#000"/>
<rect x="730" y="580" width="1" height="14" fill="#2f9237"/>
<rect x="735" y="574" width="1" height="19" fill="#000"/>
<rect x="734" y="579" width="3" height="7" fill="#000"/>
<rect x="735" y="580" width="1" height="5" fill="#e02d2d"/>
<rect x="740" y="584" width="1" height="27" fill="#000"/>
<rect x="739" y="586" width="3" height="15" fill="#000"/>
<rect x="740" y="587" width="1" height="13" fill="#e02d2d"/>
<rect x="745" y="593" width="1" height="13" fill="#000"/>
<rect x="744" y="600" width="3" height="3" fill="#000"/>
<rect x="745" y="601" width="1" height="1" fill="#e02d2d"/>
<rect x="750" y="588" width="1" height="23" fill="#000"/>
<rect x="749" y="589" width="3" height="14" fill="#000"/>
<rect x="750" y="590" width="1" height="12" fill="#2f9237"/>
<rect x="755" y="586" width="1" height="18" fill="#000"/>
<rect x="754" y="589" width="3" height="9" fill="#000"/>
<rect x="755" y="590" width="1" height="7" fill="#e02d2d"/>
<rect x="760" y="596" width="1" height="20" fill="#000"/>
<rect x="759" y="598" width="3" height="12" fill="#000"/>
<rect x="760" y="599" width="1" height="10" fill="#e02d2d"/>
<rect x="765" y="601" width="1" height="20" fill="#000"/>
<rect x="764" y="606" width="3" height="4" fill="#000"/>
<rect x="765" y="607" width="1" height="2" fill="#2f9237"/>
<rect x="770" y="560" width="1" height="47" fill="#000"/>
<rect x="769" y="568" width="3" height="38" fill="#000"/>
<rect x="770" y="569" width="1" height="36" fill="#2f9237"/>
<rect x="775" y="561" width="1" height="14" fill="#000"/>
<rect x="774" y="567" width="3" height="2" fill="#000"/>
<rect x="780" y="559" width="1" height="16" fill="#000"/>
<rect x="779" y="567" width="3" height="5" fill="#000"/>
<rect x="780" y="568" width="1" height="3" fill="#e02d2d"/>
<rect x="785" y="557" width="1" height="16" fill="#000"/>
<rect x="784" y="570" width="3" height="2" fill="#000"/>
<rect x="790" y="568" width="1" height="8" fill="#000"/>
<rect x="789" y="570" width="3" height="3" fill="#000"/>
<rect x="790" y="571" width="1" height="1" fill="#e02d2d"/>
<rect x="795" y="571" width="1" height="11" fill="#000"/>
<rect x="794" y="572" width="3" height="7" fill="#000"/>
<rect x="795" y="573" width="1" height="5" fill="#e02d2d"/>
<rect x="800" y="572" width="1" height="13" fill="#000"/>
<rect x="799" y="579" width="3" height="3" fill="#000"/>
<rect x="800" y="580" width="1" height="1" fill="#e02d2d"/>
<rect x="805" y="570" width="1" height="13" fill="#000"/>
<rect x="804" y="578" width="3" height="3" fill="#000"/>
<rect x="805" y="579" width="1" height="1" fill="#2f9237"/>
<rect x="810" y="575" width="1" height="43" fill="#000"/>
<rect x="809" y="578" width="3" height="29" fill="#000"/>
<rect x="810" y="579" width="1" height="27" fill="#e02d2d"/>
<rect x="815" y="601" width="1" height="14" fill="#000"/>
<rect x="814" y="607" width="3" height="1" fill="#000"/>
<rect x="820" y="589" width="1" height="27" fill="#000"/>
<rect x="819" y="608" width="3" height="3" fill="#000"/>
<rect x="820" y="609" width="1" height="1" fill="#e02d2d"/>
<rect x="825" y="606" width="1" height="11" fill="#000"/>
<rect x="824" y="610" width="3" height="2" fill="#000"/>
<rect x="830" y="601" width="1" height="19" fill="#000"/>
<rect x="829" y="604" width="3" height="8" fill="#000"/>
<rect x="830" y="605" width="1" height="6" fill="#2f9237"/>
<rect x="835" y="595" width="1" height="13" fill="#000"/>
<rect x="834" y="604" width="3" height="3" fill="#000"/>
<rect x="835" y="605" width="1" height="1" fill="#e02d2d"/>
<rect x="840" y="589" width="1" height="20" fill="#000"/>
<rect x="839" y="590" width="3" height="17" fill="#000"/>
<rect x="840" y="591" width="1" height="15" fill="#2f9237"/>
<rect x="845" y="585" width="1" height="13" fill="#000"/>
<rect x="844" y="590" width="3" height="2" fill="#000"/>
<rect x="850" y="590" width="1" height="14" fill="#000"/>
<rect x="849" y="591" width="3" height="7" fill="#000"/>
<rect x="850" y="592" width="1" height="5" fill="#e02d2d"/>
<rect x="855" y="570" width="1" height="29" fill="#000"/>
<rect x="854" y="572" width="3" height="27" fill="#000"/>
<rect x="855" y="573" width="1" height="25" fill="#2f9237"/>
<rect x="860" y="530" width="1" height="43" fill="#000"/>
<rect x="859" y="535" width="3" height="37" fill="#000"/>
<rect x="860" y="536" width="1" height="35" fill="#2f9237"/>
<rect x="865" y="524" width="1" height="15" fill="#000"/>
<rect x="864" y="532" width="3" height="4" fill="#000"/>
<rect x="865" y="533" width="1" height="2" fill="#2f9237"/>
<rect x="870" y="510" width="1" height="25" fill="#000"/>
<rect x="869" y="517" width="3" height="16" fill="#000"/>
<rect x="870" y="518" width="1" height="14" fill="#2f9237"/>
<rect x="875" y="510" width="1" height="23" fill="#000"/>
<rect x="874" y="515" width="3" height="3" fill="#000"/>
<rect x="875" y="516" width="1" height="1" fill="#2f9237"/>
<rect x="880" y="507" width="1" height="19" fill="#000"/>
<rect x="879" y="514" width="3" height="1" fill="#000"/>
<rect x="885" y="495" width="1" height="24" fill="#000"/>
<rect x="884" y="497" width="3" height="17" fill="#000"/>
<rect x="885" y="498" width="1" height="15" fill="#2f9237"/>
<rect x="890" y="468" width="1" height="30" fill="#000"/>
<rect x="889" y="473" width="3" height="24" fill="#000"/>
<rect x="890" y="474" width="1" height="22" fill="#2f9237"/>
<rect x="895" y="470" width="1" height="24" fill="#000"/>
<rect x="894" y="473" width="3" height="15" fill="#000"/>
<rect x="895" y="474" width="1" height="13" fill="#e02d2d"/>
<rect x="900" y="470" width="1" height="22" fill="#000"/>
<rect x="899" y="478" width="3" height="10" fill="#000"/>
<rect x="900" y="479" width="1" height="8" fill="#2f9237"/>
<rect x="905" y="473" width="1" height="16" fill="#000"/>
<rect x="904" y="478" width="3" height="4" fill="#000"/>
<rect x="905" y="479" width="1" height="2" fill="#e02d2d"/>
<rect x="910" y="461" width="1" height="31" fill="#000"/>
<rect x="909" y="472" width="3" height="10" fill="#000"/>
<rect x="910" y="473" width="1" height="8" fill="#2f9237"/>
<rect x="915" y="444" width="1" height="43" fill="#000"/>
<rect x="914" y="472" width="3" height="14" fill="#000"/>
<rect x="915" y="473" width="1" height="12" fill="#e02d2d"/>
<rect x="920" y="474" width="1" height="21" fill="#000"/>
<rect x="919" y="486" width="3" height="1" fill="#000"/>
<rect x="925" y="480" width="1" height="26" fill="#000"/>
<rect x="924" y="484" width="3" height="3" fill="#000"/>
<rect x="925" y="485" width="1" height="1" fill="#2f9237"/>
<rect x="930" y="474" width="1" height="11" fill="#000"/>
<rect x="929" y="481" width="3" height="4" fill="#000"/>
<rect x="930" y="482" width="1" height="2" fill="#2f9237"/>
<rect x="935" y="446" width="1" height="36" fill="#000"/>
<rect x="934" y="448" width="3" height="34" fill="#000"/>
<rect x="935" y="449" width="1" height="32" fill="#2f9237"/>
<rect x="940" y="424" width="1" height="27" fill="#000"/>
<rect x="939" y="428" width="3" height="21" fill="#000"/>
<rect x="940" y="429" width="1" height="19" fill="#2f9237"/>
<rect x="945" y="423" width="1" height="13" fill="#000"/>
<rect x="944" y="428" width="3" height="3" fill="#000"/>
<rect x="945" y="429" width="1" height="1" fill="#e02d2d"/>
<rect x="950" y="374" width="1" height="57" fill="#000"/>
<rect x="949" y="378" width="3" height="52" fill="#000"/>
<rect x="950" y="379" width="1" height="50" fill="#2f9237"/>
<rect x="955" y="350" width="1" height="45" fill="#000"/>
<rect x="954" y="355" width="3" height="23" fill="#000"/>
<rect x="955" y="356" width="1" height="21" fill="#2f9237"/>
<rect x="960" y="337" width="1" height="34" fill="#000"/>
<rect x="959" y="355" width="3" height="3" fill="#000"/>
<rect x="960" y="356" width="1" height="1" fill="#e02d2d"/>
<rect x="965" y="355" width="1" height="33" fill="#000"/>
<rect x="964" y="357" width="3" height="4" fill="#000"/>
<rect x="965" y="358" width="1" height="2" fill="#e02d2d"/>
<rect x="970" y="344" width="1" height="20" fill="#000"/>
<rect x="969" y="346" width="3" height="15" fill="#000"/>
<rect x="970" y="347" width="1" height="13" fill="#2f9237"/>
<rect x="975" y="345" width="1" height="26" fill="#000"/>
<rect x="974" y="346" width="3" height="7" fill="#000"/>
<rect x="975" y="347" width="1" height="5" fill="#e02d2d"/>
<rect x="980" y="340" width="1" height="48" fill="#000"/>
<rect x="979" y="353" width="3" height="15" fill="#000"/>
<rect x="980" y="354" width="1" height="13" fill="#e02d2d"/>
<rect x="985" y="363" width="1" height="30" fill="#000"/>
<rect x="984" y="367" width="3" height="3" fill="#000"/>
<rect x="985" y="368" width="1" height="1" fill="#e02d2d"/>
<rect x="990" y="361" width="1" height="20" fill="#000"/>
<rect x="989" y="370" width="3" height="8" fill="#000"/>
<rect x="990" y="371" width="1" height="6" fill="#e02d2d"/>
<rect x="995" y="371" width="1" height="35" fill="#000"/>
<rect x="994" y="374" width="3" height="4" fill="#000"/>
<rect x="995" y="375" width="1" height="2" fill="#2f9237"/>
<rect x="1000" y="368" width="1" height="22" fill="#000"/>
<rect x="999" y="374" width="3" height="12" fill="#000"/>
<rect x="1000" y="375" width="1" height="10" fill="#e02d2d"/>
<rect x="1005" y="360" width="1" height="28" fill="#000"/>
<rect x="1004" y="365" width="3" height="21" fill="#000"/>
<rect x="1005" y="366" width="1" height="19" fill="#2f9237"/>
<rect x="1010" y="343" width="1" height="23" fill="#000"/>
<rect x="1009" y="356" width="3" height="9" fill="#000"/>
<rect x="1010" y="357" width="1" height="7" fill="#2f9237"/>
<rect x="1015" y="348" width="1" height="14" fill="#000"/>
<rect x="1014" y="356" width="3" height="3" fill="#000"/>
<rect x="1015" y="357" width="1" height="1" fill="#e02d2d"/>
<rect x="1020" y="343" width="1" height="17" fill="#000"/>
<rect x="1019" y="352" width="3" height="7" fill="#000"/>
<rect x="1020" y="353" width="1" height="5" fill="#2f9237"/>
<rect x="1025" y="350" width="1" height="20" fill="#000"/>
<rect x="1024" y="352" width="3" height="11" fill="#000"/>
<rect x="1025" y="353" width="1" height="9" fill="#e02d2d"/>
<rect x="1030" y="361" width="1" height="17" fill="#000"/>
<rect x="1029" y="363" width="3" height="14" fill="#000"/>
<rect x="1030" y="364" width="1" height="12" fill="#e02d2d"/>
<rect x="1035" y="377" width="1" height="21" fill="#000"/>
<rect x="1034" y="377" width="3" height="3" fill="#000"/>
<rect x="1035" y="378" width="1" height="1" fill="#e02d2d"/>
<rect x="1040" y="375" width="1" height="46" fill="#000"/>
<rect x="1039" y="379" width="3" height="31" fill="#000"/>
<rect x="1040" y="380" width="1" height="29" fill="#e02d2d"/>
<rect x="1045" y="386" width="1" height="30" fill="#000"/>
<rect x="1044" y="388" width="3" height="22" fill="#000"/>
<rect x="1045" y="389" width="1" height="20" fill="#2f9237"/>
<rect x="1050" y="357" width="1" height="32" fill="#000"/>
<rect x="1049" y="358" width="3" height="30" fill="#000"/>
<rect x="1050" y="359" width="1" height="28" fill="#2f9237"/>
<rect x="1055" y="353" width="1" height="23" fill="#000"/>
<rect x="1054" y="356" width="3" height="2" fill="#000"/>
<rect x="1060" y="350" width="1" height="53" fill="#000"/>
<rect x="1059" y="357" width="3" height="42" fill="#000"/>
<rect x="1060" y="358" width="1" height="40" fill="#e02d2d"/>
<rect x="1065" y="380" width="1" height="64" fill="#000"/>
<rect x="1064" y="398" width="3" height="3" fill="#000"/>
<rect x="1065" y="399" width="1" height="1" fill="#2f9237"/>
<rect x="1070" y="383" width="1" height="26" fill="#000"/>
<rect x="1069" y="397" width="3" height="1" fill="#000"/>
<rect x="1075" y="370" width="1" height="30" fill="#000"/>
<rect x="1074" y="372" width="3" height="26" fill="#000"/>
<rect x="1075" y="373" width="1" height="24" fill="#2f9237"/>
<rect x="1080" y="372" width="1" height="32" fill="#000"/>
<rect x="1079" y="373" width="3" height="30" fill="#000"/>
<rect x="1080" y="374" width="1" height="28" fill="#e02d2d"/>
<rect x="1085" y="393" width="1" height="33" fill="#000"/>
<rect x="1084" y="403" width="3" height="12" fill="#000"/>
<rect x="1085" y="404" width="1" height="10" fill="#e02d2d"/>
<rect x="1090" y="388" width="1" height="28" fill="#000"/>
<rect x="1089" y="396" width="3" height="19" fill="#000"/>
<rect x="1090" y="397" width="1" height="17" fill="#2f9237"/>
<rect x="1095" y="374" width="1" height="28" fill="#000"/>
<rect x="1094" y="376" width="3" height="20" fill="#000"/>
<rect x="1095" y="377" width="1" height="18" fill="#2f9237"/>
<rect x="1100" y="364" width="1" height="16" fill="#000"/>
<rect x="1099" y="368" width="3" height="9" fill="#000"/>
<rect x="1100" y="369" width="1" height="7" fill="#2f9237"/>
<rect x="1105" y="368" width="1" height="24" fill="#000"/>
<rect x="1104" y="368" width="3" height="11" fill="#000"/>
<rect x="1105" y="369" width="1" height="9" fill="#e02d2d"/>
<rect x="1110" y="372" width="1" height="24" fill="#000"/>
<rect x="1109" y="378" width="3" height="2" fill="#000"/>
<rect x="1115" y="353" width="1" height="27" fill="#000"/>
<rect x="1114" y="354" width="3" height="26" fill="#000"/>
<rect x="1115" y="355" width="1" height="24" fill="#2f9237"/>
<rect x="1120" y="353" width="1" height="16" fill="#000"/>
<rect x="1119" y="355" width="3" height="3" fill="#000"/>
<rect x="1120" y="356" width="1" height="1" fill="#e02d2d"/>
<rect x="1125" y="338" width="1" height="22" fill="#000"/>
<rect x="1124" y="355" width="3" height="4" fill="#000"/>
<rect x="1125" y="356" width="1" height="2" fill="#2f9237"/>
<rect x="1130" y="311" width="1" height="52" fill="#000"/>
<rect x="1129" y="316" width="3" height="39" fill="#000"/>
<rect x="1130" y="317" width="1" height="37" fill="#2f9237"/>
<rect x="1135" y="276" width="1" height="40" fill="#000"/>
<rect x="1134" y="285" width="3" height="31" fill="#000"/>
<rect x="1135" y="286" width="1" height="29" fill="#2f9237"/>
<rect x="1140" y="259" width="1" height="28" fill="#000"/>
<rect x="1139" y="263" width="3" height="23" fill="#000"/>
<rect x="1140" y="264" width="1" height="21" fill="#2f9237"/>
<rect x="1145" y="261" width="1" height="22" fill="#000"/>
<rect x="1144" y="263" width="3" height="3" fill="#000"/>
<rect x="1145" y="264" width="1" height="1" fill="#e02d2d"/>
<rect x="1150" y="247" width="1" height="37" fill="#000"/>
<rect x="1149" y="255" width="3" height="11" fill="#000"/>
<rect x="1150" y="256" width="1" height="9" fill="#2f9237"/>
<rect x="1155" y="244" width="1" height="29" fill="#000"/>
<rect x="1154" y="246" width="3" height="9" fill="#000"/>
<rect x="1155" y="247" width="1" height="7" fill="#2f9237"/>
<rect x="1160" y="237" width="1" height="42" fill="#000"/>
<rect x="1159" y="246" width="3" height="25" fill="#000"/>
<rect x="1160" y="247" width="1" height="23" fill="#e02d2d"/>
<rect x="1165" y="258" width="1" height="20" fill="#000"/>
<rect x="1164" y="270" width="3" height="4" fill="#000"/>
<rect x="1165" y="271" width="1" height="2" fill="#e02d2d"/>
<rect x="1170" y="260" width="1" height="20" fill="#000"/>
<rect x="1169" y="262" width="3" height="12" fill="#000"/>
<rect x="1170" y="263" width="1" height="10" fill="#2f9237"/>
<rect x="1175" y="251" width="1" height="31" fill="#000"/>
<rect x="1174" y="262" width="3" height="11" fill="#000"/>
<rect x="1175" y="263" width="1" height="9" fill="#e02d2d"/>
<rect x="1180" y="241" width="1" height="45" fill="#000"/>
<rect x="1179" y="254" width="3" height="19" fill="#000"/>
<rect x="1180" y="255" width="1" height="17" fill="#2f9237"/>
<rect x="1185" y="234" width="1" height="25" fill="#000"/>
<rect x="1184" y="251" width="3" height="3" fill="#000"/>
<rect x="1185" y="252" width="1" height="1" fill="#2f9237"/>
<rect x="1190" y="241" width="1" height="27" fill="#000"/>
<rect x="1189" y="251" width="3" height="14" fill="#000"/>
<rect x="1190" y="252" width="1" height="12" fill="#e02d2d"/>
<rect x="1195" y="251" width="1" height="31" fill="#000"/>
<rect x="1194" y="264" width="3" height="4" fill="#000"/>
<rect x="1195" y="265" width="1" height="2" fill="#e02d2d"/>
<rect x="1200" y="261" width="1" height="12" fill="#000"/>
<rect x="1199" y="268" width="3" height="1" fill="#000"/>
<rect x="1205" y="259" width="1" height="15" fill="#000"/>
<rect x="1204" y="268" width="3" height="1" fill="#000"/>
<rect x="1210" y="267" width="1" height="55" fill="#000"/>
<rect x="1209" y="268" width="3" height="6" fill="#000"/>
<rect x="1210" y="269" width="1" height="4" fill="#e02d2d"/>
<rect x="1215" y="273" width="1" height="43" fill="#000"/>
<rect x="1214" y="274" width="3" height="42" fill="#000"/>
<rect x="1215" y="275" width="1" height="40" fill="#e02d2d"/>
<rect x="1220" y="299" width="1" height="28" fill="#000"/>
<rect x="1219" y="308" width="3" height="6" fill="#000"/>
<rect x="1220" y="309" width="1" height="4" fill="#2f9237"/>
<rect x="1225" y="293" width="1" height="19" fill="#000"/>
<rect x="1224" y="297" width="3" height="11" fill="#000"/>
<rect x="1225" y="298" width="1" height="9" fill="#2f9237"/>
<rect x="1230" y="289" width="1" height="21" fill="#000"/>
<rect x="1229" y="297" width="3" height="11" fill="#000"/>
<rect x="1230" y="298" width="1" height="9" fill="#e02d2d"/>
<rect x="1235" y="289" width="1" height="35" fill="#000"/>
<rect x="1234" y="308" width="3" height="14" fill="#000"/>
<rect x="1235" y="309" width="1" height="12" fill="#e02d2d"/>
<rect x="1240" y="297" width="1" height="36" fill="#000"/>
<rect x="1239" y="304" width="3" height="18" fill="#000"/>
<rect x="1240" y="305" width="1" height="16" fill="#2f9237"/>
<rect x="1245" y="295" width="1" height="11" fill="#000"/>
<rect x="1244" y="299" width="3" height="6" fill="#000"/>
<rect x="1245" y="300" width="1" height="4" fill="#2f9237"/>
<rect x="1250" y="269" width="1" height="31" fill="#000"/>
<rect x="1249" y="274" width="3" height="25" fill="#000"/>
<rect x="1250" y="275" width="1" height="23" fill="#2f9237"/>
<rect x="1255" y="263" width="1" height="13" fill="#000"/>
<rect x="1254" y="273" width="3" height="2" fill="#000"/>
<rect x="1260" y="245" width="1" height="29" fill="#000"/>
<rect x="1259" y="247" width="3" height="27" fill="#000"/>
<rect x="1260" y="248" width="1" height="25" fill="#2f9237"/>
<rect x="1265" y="240" width="1" height="16" fill="#000"/>
<rect x="1264" y="242" width="3" height="5" fill="#000"/>
<rect x="1265" y="243" width="1" height="3" fill="#2f9237"/>
<rect x="1270" y="228" width="1" height="24" fill="#000"/>
<rect x="1269" y="235" width="3" height="7" fill="#000"/>
<rect x="1270" y="236" width="1" height="5" fill="#2f9237"/>
<rect x="1275" y="231" width="1" height="19" fill="#000"/>
<rect x="1274" y="235" width="3" height="8" fill="#000"/>
<rect x="1275" y="236" width="1" height="6" fill="#e02d2d"/>
<rect x="1280" y="240" width="1" height="17" fill="#000"/>
<rect x="1279" y="242" width="3" height="1" fill="#000"/>
<rect x="1285" y="231" width="1" height="20" fill="#000"/>
<rect x="1284" y="242" width="3" height="2" fill="#000"/>
<rect x="1290" y="236" width="1" height="26" fill="#000"/>
<rect x="1289" y="244" width="3" height="11" fill="#000"/>
<rect x="1290" y="245" width="1" height="9" fill="#e02d2d"/>
<rect x="1295" y="235" width="1" height="23" fill="#000"/>
<rect x="1294" y="237" width="3" height="18" fill="#000"/>
<rect x="1295" y="238" width="1" height="16" fill="#2f9237"/>
<rect x="1300" y="231" width="1" height="14" fill="#000"/>
<rect x="1299" y="235" width="3" height="3" fill="#000"/>
<rect x="1300" y="236" width="1" height="1" fill="#2f9237"/>
<rect x="1305" y="211" width="1" height="28" fill="#000"/>
<rect x="1304" y="212" width="3" height="24" fill="#000"/>
<rect x="1305" y="213" width="1" height="22" fill="#2f9237"/>
<rect x="1310" y="203" width="1" height="16" fill="#000"/>
<rect x="1309" y="212" width="3" height="5" fill="#000"/>
<rect x="1310" y="213" width="1" height="3" fill="#e02d2d"/>
<rect x="1315" y="208" width="1" height="14" fill="#000"/>
<rect x="1314" y="211" width="3" height="5" fill="#000"/>
<rect x="1315" y="212" width="1" height="3" fill="#2f9237"/>
<rect x="1320" y="210" width="1" height="18" fill="#000"/>
<rect x="1319" y="211" width="3" height="13" fill="#000"/>
<rect x="1320" y="212" width="1" height="11" fill="#e02d2d"/>
<rect x="1325" y="210" width="1" height="16" fill="#000"/>
<rect x="1324" y="211" width="3" height="13" fill="#000"/>
<rect x="1325" y="212" width="1" height="11" fill="#2f9237"/>
<rect x="1330" y="200" width="1" height="17" fill="#000"/>
<rect x="1329" y="211" width="3" height="5" fill="#000"/>
<rect x="1330" y="212" width="1" height="3" fill="#e02d2d"/>
<rect x="1335" y="214" width="1" height="17" fill="#000"/>
<rect x="1334" y="216" width="3" height="8" fill="#000"/>
<rect x="1335" y="217" width="1" height="6" fill="#e02d2d"/>
<rect x="1340" y="224" width="1" height="14" fill="#000"/>
<rect x="1339" y="224" width="3" height="13" fill="#000"/>
<rect x="1340" y="225" width="1" height="11" fill="#e02d2d"/>
<rect x="1345" y="226" width="1" height="13" fill="#000"/>
<rect x="1344" y="230" width="3" height="7" fill="#000"/>
<rect x="1345" y="231" width="1" height="5" fill="#2f9237"/>
<rect x="1350" y="217" width="1" height="14" fill="#000"/>
<rect x="1349" y="220" width="3" height="10" fill="#000"/>
<rect x="1350" y="221" width="1" height="8" fill="#2f9237"/>
<rect x="1355" y="215" width="1" height="7" fill="#000"/>
<rect x="1354" y="220" width="3" height="1" fill="#000"/>
<rect x="1360" y="219" width="1" height="17" fill="#000"/>
<rect x="1359" y="221" width="3" height="7" fill="#000"/>
<rect x="1360" y="222" width="1" height="5" fill="#e02d2d"/>
<rect x="1365" y="198" width="1" height="31" fill="#000"/>
<rect x="1364" y="202" width="3" height="27" fill="#000"/>
<rect x="1365" y="203" width="1" height="25" fill="#2f9237"/>
<rect x="1370" y="197" width="1" height="55" fill="#000"/>
<rect x="1369" y="202" width="3" height="19" fill="#000"/>
<rect x="1370" y="203" width="1" height="17" fill="#e02d2d"/>
<rect x="1375" y="219" width="1" height="29" fill="#000"/>
<rect x="1374" y="221" width="3" height="15" fill="#000"/>
<rect x="1375" y="222" width="1" height="13" fill="#e02d2d"/>
<rect x="1380" y="220" width="1" height="21" fill="#000"/>
<rect x="1379" y="222" width="3" height="15" fill="#000"/>
<rect x="1380" y="223" width="1" height="13" fill="#2f9237"/>
<rect x="1385" y="218" width="1" height="24" fill="#000"/>
<rect x="1384" y="222" width="3" height="10" fill="#000"/>
<rect x="1385" y="223" width="1" height="8" fill="#e02d2d"/>
<rect x="1390" y="231" width="1" height="29" fill="#000"/>
<rect x="1389" y="231" width="3" height="15" fill="#000"/>
<rect x="1390" y="232" width="1" height="13" fill="#e02d2d"/>
<rect x="1395" y="239" width="1" height="35" fill="#000"/>
<rect x="1394" y="246" width="3" height="23" fill="#000"/>
<rect x="1395" y="247" width="1" height="21" fill="#e02d2d"/>
<polyline points="1409.2,270.1 1424.4,234.6 1449.1,294.8 1464.4,192.4 1484.0,249.5 1514.5,160.0 1534.1,220.3 1564.3,117.5 1599.5,193.0 1624.2,99.1 1654.0,150.8 1689.9,56.0" fill="none" stroke="#363a45" stroke-width="3" stroke-linejoin="round" stroke-linecap="round"/>
<polyline points="1670.2,65.5 1689.9,56.0 1698.7,76.0" fill="none" stroke="#363a45" stroke-width="3" stroke-linejoin="round" stroke-linecap="round"/></g></svg>
<div class="abs" id="vax"></div><div class="abs" id="hax"></div>
<div class="abs lg" style="left:18px;top:35px;letter-spacing:-0.35px">BTCUSDT · 1W · Binance</div><div class="abs lg" style="left:155.9px;top:35px;letter-spacing:-0.2px">O104.722,95</div><div class="abs lg" style="left:230.6px;top:35px;letter-spacing:-0.22px">H107.500,00</div><div class="abs lg" style="left:305.2px;top:35px;letter-spacing:-0.2px">L94.012,45</div><div class="abs lg" style="left:370.7px;top:35px;letter-spacing:-0.2px">C96.012,47</div><div class="abs lg" style="left:18px;top:52px;letter-spacing:-0.2px">SMA (20, close)</div><div class="abs lg" style="left:107.9px;top:52px;letter-spacing:-0.05px;color:#2962ff;-webkit-text-stroke-color:#2962ff">113.217,00</div><div class="abs lg" style="left:18px;top:69px;letter-spacing:-0.2px">SMA (50, close)</div><div class="abs lg" style="left:107.9px;top:69px;letter-spacing:-0.05px;color:#2e7d32;-webkit-text-stroke-color:#2e7d32">102.991,07</div><div class="abs" id="ttl" style="left:915px;top:64px;font-size:22px;line-height:26px;color:#2a2e39;letter-spacing:0.66px">BTC/USD (Wochenchart)</div><div class="abs" id="sub" style="left:982px;top:107px;font-size:11.5px;line-height:13px;color:#2a2e39;letter-spacing:0.22px">Logarithmische Skalierung</div><div class="abs" id="cpy" style="left:1527px;top:701px;font-size:16px;line-height:18px;color:#434651;letter-spacing:0.12px">© kagels-trading.de</div><div class="abs" style="left:1728px;top:30px;width:92px;height:25px;border:1px solid #e8e9ee;border-radius:4px;box-sizing:content-box"></div><div class="abs" style="left:1738px;top:38px;font-size:11.5px;line-height:14px;color:#131722;letter-spacing:-0.9px">USDT</div><div class="abs pl" style="top:67.8px">200.000,00</div><div class="abs pl" style="top:110.2px">170.000,00</div><div class="abs pl" style="top:160.9px">140.000,00</div><div class="abs pl" style="top:201.1px">120.000,00</div><div class="abs pl" style="top:248.7px">100.000,00</div><div class="abs pl" style="top:291.1px">85.000,00</div><div class="abs pl" style="top:395.4px">57.000,00</div><div class="abs pl" style="top:538.1px">33.000,00</div><div class="abs pl" style="top:632.3px">23.000,00</div><div class="abs pl" style="top:682.2px">19.000,00</div><div class="abs pl" style="top:723.8px">16.200,00</div><div class="abs tag" style="top:186px;width:95px;background:#f7525f">126.199,63</div><div class="abs tag" style="top:226px;width:95px;background:#f7525f">108.353,00</div><div class="abs tag" style="top:257px;width:87px;background:#d32f2f;font-weight:bold;-webkit-text-stroke:0;height:23px">96.012,47</div><div class="abs tag" style="top:343px;width:87px;background:#1b5e20">69.000,00</div><div class="abs tag" style="top:437px;width:87px;background:#1b5e20">48.189,84</div><div class="abs tag" style="top:459.5px;width:87px;background:#1b5e20">44.700,00</div><div class="abs tag" style="top:495px;width:87px;background:#1b5e20">38.555,00</div><div class="abs tag" style="top:546px;width:87px;background:#1b5e20">31.804,20</div><div class="abs tag" style="top:568.5px;width:87px;background:#1b5e20">29.300,00</div><div class="abs tag" style="top:591px;width:87px;background:#1b5e20">28.130,00</div><div class="abs tag" style="top:670px;width:87px;background:#1b5e20">19.798,68</div><div class="abs tag" style="top:734px;width:87px;background:#1b5e20">15.476,00</div><div class="abs tag" style="top:761px;width:87px;background:#1b5e20">13.970,00</div><div class="abs ann" style="top:182.5px">Allzeit-Hoch</div><div class="abs ann" style="top:222.5px">2024-Hoch</div><div class="abs ann" style="top:348.5px">2021-Hoch</div><div class="abs ann" style="top:434.5px">2022-Hoch</div><div class="abs ann" style="top:453.5px">2023-Hoch</div><div class="abs ann" style="top:508.5px">Jan'24 Tief</div><div class="abs ann" style="top:542.5px">Juli'23 Hoch</div><div class="abs ann" style="top:564.0px">2020 Hoch</div><div class="abs ann" style="top:591.5px">2021 Tief</div><div class="abs ann" style="top:666.5px">2017 Hoch</div><div class="abs ann" style="top:747.5px">2022 Tief</div><div class="abs ann" style="top:757.5px">2019 Hoch</div><div class="abs tl b" style="left:130px">2021</div><div class="abs tl" style="left:260px">Jul</div><div class="abs tl b" style="left:390px">2022</div><div class="abs tl" style="left:519px">Jul</div><div class="abs tl b" style="left:650px">2023</div><div class="abs tl" style="left:780px">Jul</div><div class="abs tl b" style="left:911px">2024</div><div class="abs tl" style="left:1040px">Jul</div><div class="abs tl b" style="left:1175px">2025</div><div class="abs tl" style="left:1304px">Jul</div><div class="abs tl b" style="left:1435px">2026</div><div class="abs tl" style="left:1564px">Jul</div><div class="abs tl b" style="left:1695px">2027</div><svg class="abs" style="left:12px;top:845px" width="31" height="16" viewBox="0 0 31 16"><path fill="#dcdcdc" d="M0 0H12V15H6V6H0Z M13.9 3a3 3 0 1 0 6 0a3 3 0 1 0 -6 0Z M22.5 0H30.5L24 15H16.5Z"/></svg>
<div class="abs" id="tv" style="left:49.5px;top:840.5px;font-size:20.3px;line-height:24px;font-weight:bold;color:#dcdcdc;letter-spacing:0.1px">TradingView</div>
</body></html>
